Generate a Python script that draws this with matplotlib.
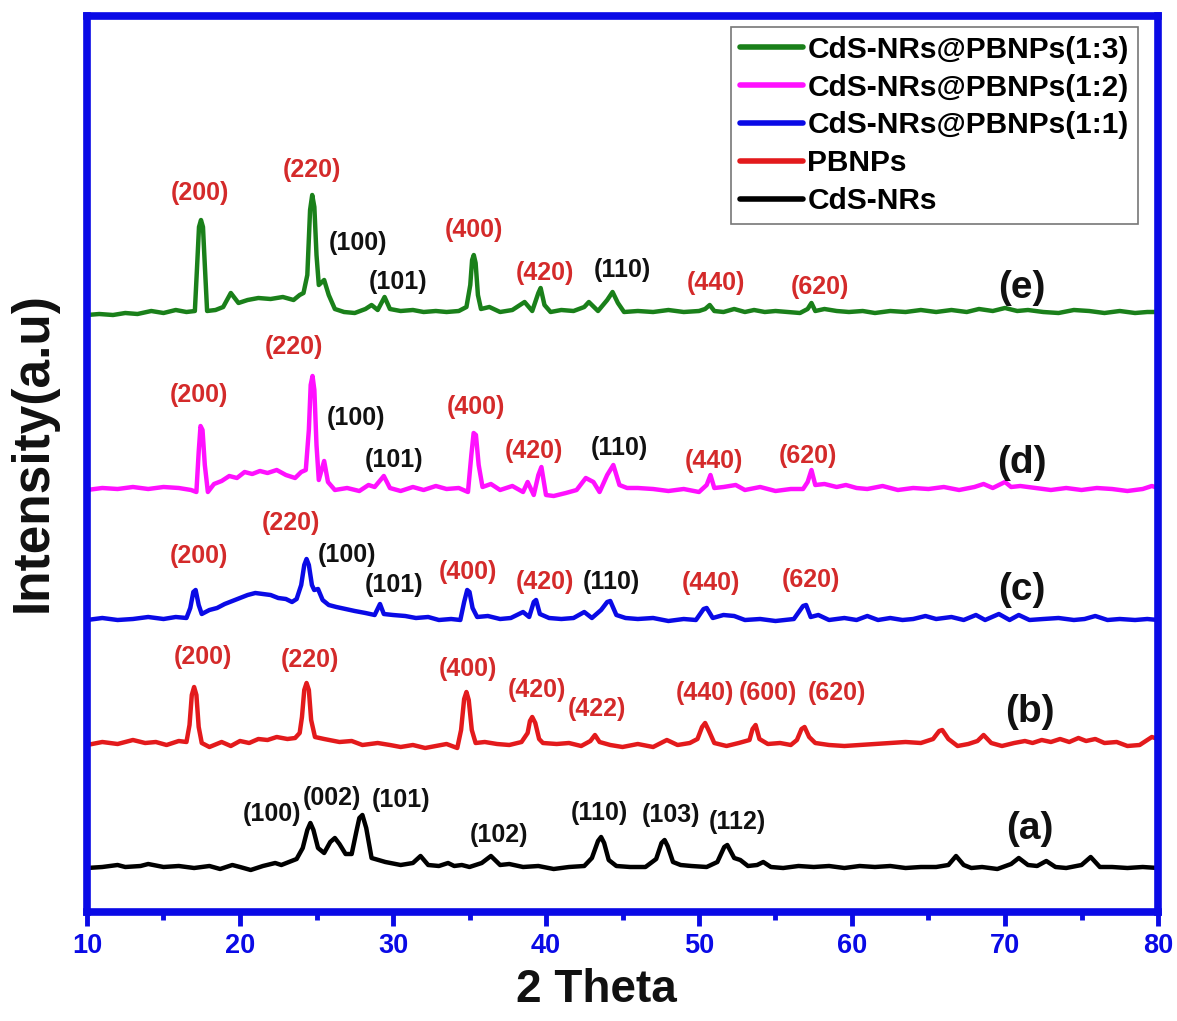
import numpy as np
import matplotlib
matplotlib.use("Agg")
from matplotlib import pyplot as plt

plt.rcParams['font.family'] = ['Liberation Sans', 'DejaVu Sans']
plt.rcParams['font.weight'] = 'bold'

#%% DATA (intensity in arbitrary units above each baseline)

# (a) CdS-NRs
x_a = [10, 11, 12, 12.5, 13.5, 14, 15, 16, 17, 18, 18.7, 19.5, 20, 20.7, 21.5, 22.3, 22.7, 23.2,
       23.7, 24.1, 24.4, 24.6, 24.8, 25.1, 25.5, 25.9, 26.2, 26.5, 26.9, 27.3, 27.6, 27.8, 28.0,
       28.25, 28.6, 29.5, 30.5, 31.3,
       31.8, 32.3, 33, 33.6, 34, 34.5, 35, 35.8, 36.4, 37, 37.6, 38.5, 39.5, 40.5, 41.5, 42.5, 43.0,
       43.4, 43.6, 43.8, 44.1, 44.6, 45.5, 46.5, 47.2, 47.55, 47.75, 47.95, 48.3, 48.8, 49.5, 50.5,
       51.2, 51.65, 51.85, 52.3, 52.7,
       53.2, 53.8, 54.2, 54.7, 55.5, 56.5, 57.5, 58.5, 59.5, 60.5, 61.5, 62.5, 63.5, 64.5, 65.5,
       66.3, 66.8, 67.3, 67.8, 68.5, 69.5, 70.4, 70.9, 71.5, 72.1, 72.7, 73.3, 74.0, 75.0, 75.6,
       76.2, 77, 78, 79, 80]
y_a = [0, 1, 3, 1, 2, 4, 1, 2, 0, 2, -1, 3, 1, -2, 2, 5, 3, 6,
       9, 20, 38, 45, 38, 20, 15, 26, 30, 24, 14, 14, 36, 50, 53,
       40, 10, 6, 3, 5,
       12, 3, 2, 5, 2, 3, 1, 5, 12, 3, 4, 1, 2, -1, 1, 2, 10,
       27, 31, 25, 8, 2, 1, 1, 9, 25, 28, 22, 6, 3, 2, 1,
       6, 21, 23, 10, 8,
       2, 3, 6, 1, 0, 2, 1, 2, 0, 2, 1, 2, 0, 1, 1,
       3, 12, 3, 0, 1, -1, 4, 10, 3, 2, 7, 1, 0, 3, 11,
       1, 1, 0, 1, 0]

# (b) PBNPs
x_b = [10, 11, 12, 13, 13.8, 14.5, 15.2, 16.0, 16.5, 16.7, 16.85, 17.0, 17.15, 17.3, 17.5, 18,
       18.8, 19.4,
       20, 20.6, 21.2, 21.8, 22.4, 23.1, 23.6, 23.9, 24.05, 24.2, 24.35, 24.5, 24.65, 24.9, 25.5,
       26.5, 27.3,
       28, 29, 29.8, 30.5, 31.3, 32.1, 32.8, 33.5, 34.2, 34.45, 34.65, 34.8, 34.95, 35.15, 35.4,
       36, 36.8, 37.6,
       38.4, 38.8, 38.95, 39.1, 39.3, 39.55, 39.8, 40.7, 41.5, 42.3, 42.9, 43.2, 43.5, 44.2, 45,
       46, 47,
       47.9, 48.6, 49.4, 49.9, 50.2, 50.4, 50.65, 51.0, 51.8, 52.6, 53.3, 53.5, 53.7, 53.95, 54.5,
       55.3, 56.0,
       56.4, 56.7, 56.9, 57.2, 57.6, 58.5, 59.5, 60.5, 61.5, 62.5, 63.5, 64.5, 65.3, 65.7, 65.9,
       66.3, 66.9,
       67.6, 68.2, 68.6, 69.1, 69.8, 70.6, 71.3, 71.8, 72.4, 73, 73.6, 74.2, 74.8, 75.3, 75.9,
       76.5, 77.3, 78, 78.8, 79.6, 80]
y_b = [0, 3, 1, 5, 2, 3, 0, 4, 3, 20, 50, 58, 50, 18, 2, -2,
       3, -1,
       4, 2, 6, 5, 8, 6, 7, 12, 28, 55, 62, 55, 25, 8, 6,
       3, 4,
       0, 2, 0, -2, 0, -3, -1, 1, -3, 15, 46, 53, 45, 15, 2,
       3, 1, 0,
       3, 12, 24, 28, 22, 6, 2, 1, 2, -1, 4, 10, 3, 0, -2,
       1, -2,
       5, 0, 2, 6, 18, 22, 14, 2, -1, 2, 5, 16, 20, 6, 1,
       2, 0,
       5, 16, 18, 8, 2, 0, -1, 0, 1, 2, 3, 2, 6, 14, 15,
       6, -1,
       1, 4, 10, 2, -1, 2, 4, 2, 5, 3, 6, 3, 7, 4, 6,
       2, 3, -1, 0, 8, 6]

# (c) CdS-NRs@PBNPs(1:1)
x_c = [10, 11, 12, 13, 14, 15, 15.8, 16.5, 16.75, 16.95, 17.1, 17.3, 17.5, 18, 18.5, 19, 19.5,
       20, 20.5,
       21, 21.5, 22, 22.5, 23, 23.4, 23.7, 24.0, 24.2, 24.35, 24.5, 24.7, 24.85, 25.1, 25.4, 25.8,
       26.3, 26.9,
       27.5, 28.2, 28.8, 29.15, 29.4, 30, 30.8, 31.5, 32.3, 33, 33.8, 34.4, 34.65, 34.85, 35.0,
       35.2, 35.5, 36.2, 37, 37.7, 38.5, 38.9, 39.2, 39.35, 39.6, 40.2, 41, 41.8, 42.5, 43, 43.6,
       44.0, 44.2, 44.6,
       45.2, 46, 47, 48, 49, 49.8, 50.3, 50.5, 50.9, 51.6, 52.3, 53, 54, 55, 56.2, 56.8, 57.0,
       57.3, 57.8,
       58.5, 59.5, 60.3, 61, 61.7, 62.5, 63.3, 64, 64.8, 65.5, 66.5, 67.3, 68.1, 68.7, 69.6,
       70.3, 70.9, 71.6, 72.5, 73.5, 74.5, 75.2, 75.9, 76.7, 77.5, 78.5, 79.3, 80]
y_c = [0, 2, 0, 1, 3, 1, 3, 2, 12, 28, 30, 15, 6, 10, 12, 16, 19,
       22, 25,
       27, 26, 25, 22, 21, 18, 21, 35, 55, 61, 55, 35, 30, 31, 20, 15,
       13, 11,
       9, 7, 5, 16, 6, 5, 4, 2, 3, 0, 1, 0, 18, 30, 28,
       12, 3, 4, 1, 2, 8, 3, 18, 20, 6, 2, 1, 2, 8, 2, 10,
       18, 19, 5,
       2, 1, 2, -1, 1, 0, 11, 12, 2, 5, 4, 0, 1, -1, 1, 14, 15,
       3, 5,
       0, 2, 0, 4, 0, 2, 0, 1, 4, 1, 3, 0, 5, 0, 6,
       0, 5, 0, 1, 2, 0, 1, 4, 0, 1, 0, 1, 0]

# (d) CdS-NRs@PBNPs(1:2)
x_d = [10, 11, 12, 13, 14, 15, 16, 16.8, 17.15, 17.3, 17.42, 17.55, 17.7, 17.9, 18.3, 18.8,
       19.3, 19.8,
       20.3, 20.8, 21.3, 21.8, 22.4, 23, 23.6, 24.0, 24.3, 24.5, 24.62, 24.74, 24.86, 25.0, 25.15,
       25.5, 25.75,
       26.2, 27, 27.8, 28.4, 28.8, 29.4, 29.8, 30.5, 31.3, 32, 32.8, 33.5, 34.3, 34.9, 35.12,
       35.27, 35.42, 35.6, 35.85, 36.4, 37, 37.8, 38.5, 38.8, 39.2, 39.5, 39.7, 40, 40.5, 41.3,
       42,
       42.6, 43.1, 43.5, 44.0, 44.4, 44.8, 45.3, 46, 47, 48, 49, 50, 50.5, 50.75, 51.0, 51.6,
       52.4, 53, 54, 55, 56, 56.8, 57.1, 57.35, 57.6, 58.2, 59, 59.6, 60.3, 61, 62, 63, 64, 65,
       66, 67, 68, 68.6, 69.2, 70, 70.4, 71, 72, 73, 74, 75, 76, 77, 78, 79, 79.6, 80]
y_d = [0, 2, 1, 3, 1, 3, 2, 0, -2, 38, 64, 60, 25, -2, 6, 9,
       14, 12,
       18, 16, 19, 17, 20, 15, 12, 18, 20, 60, 105, 114, 100, 45, 10,
       29, 8,
       0, 2, -1, 5, 3, 14, 2, -1, 3, 0, 4, 1, 2, -2, 35,
       57, 55, 25, 3, 6, 0, 4, -2, 8, -5, 15, 23, -5, -6, -3,
       0,
       12, 8, -2, 15, 25, 5, 2, 2, 1, -1, 1, -2, 5, 15, 2, 3,
       5, 0, 3, -1, 1, 1, 8, 20, 5, 6, 3, 5, 2, 1, 4, 0, 2, 1,
       3, 0, 3, 6, 2, 8, 3, 4, 2, 0, 2, 0, 2, 1, -1, 1, 4, 2]

# (e) CdS-NRs@PBNPs(1:3)
x_e = [10, 10.8, 11.7, 12.5, 13.3, 14.2, 15, 15.8, 16.5, 17.05, 17.2, 17.32, 17.45, 17.58,
       17.7, 17.85, 18.4,
       18.9, 19.4, 19.9, 20.5, 21.2, 22, 22.8, 23.5, 23.9, 24.15, 24.4, 24.58, 24.72, 24.86, 25.0,
       25.15,
       25.5, 25.8, 26.2, 26.8, 27.5, 28.2, 28.6, 29.0, 29.45, 29.8, 30.5, 31.3, 32, 32.8, 33.5,
       34.3, 34.8, 35.05, 35.17, 35.28, 35.4, 35.55, 35.75, 36.3, 37, 37.8, 38.6, 39.1, 39.5,
       39.65, 39.9,
       40.3, 41, 41.8, 42.5, 42.8, 43.4, 44.0, 44.35, 44.7, 45.1, 46, 47, 48, 49, 50, 50.4,
       50.7, 51.0, 51.6, 52.3, 53, 53.6, 54.3, 55, 55.8, 56.6, 57.1, 57.35, 57.6, 58.2, 59,
       59.8, 60.7, 61.5, 62.5, 63.5, 64.5, 65.5, 66.5, 67.5, 68.3, 69.2, 70.0, 70.8, 71.5,
       72.5, 73.5, 74.5, 75.5, 76.5, 77.5, 78.5, 79.3, 80]
y_e = [0, 1, 0, 2, 1, 4, 2, 5, 3, 4, 50, 88, 95, 88, 50, 4, 5,
       8, 22, 12, 15, 17, 16, 18, 15, 20, 22, 40, 105, 120, 108, 60,
       30,
       35, 20, 6, 3, 2, 6, 10, 5, 18, 6, 4, 5, 3, 4, 3,
       4, 8, 30, 55, 60, 52, 20, 6, 8, 3, 5, 13, 4, 22,
       27, 10,
       3, 5, 4, 8, 13, 4, 15, 23, 12, 3, 4, 3, 5, 3, 4, 6,
       10, 4, 3, 6, 3, 5, 3, 4, 3, 2, 6, 12, 4, 6, 4,
       3, 4, 2, 4, 3, 5, 3, 5, 3, 6, 4, 7, 4, 5,
       3, 2, 5, 4, 2, 4, 2, 3, 3]

offsets = [44, 167, 292, 422, 597]
names = ["CdS-NRs", "PBNPs", "CdS-NRs@PBNPs(1:1)", "CdS-NRs@PBNPs(1:2)", "CdS-NRs@PBNPs(1:3)"]
colors = ["black", "#e31a1c", "#0a0ae6", "#ff10ff", "#1a801a"]
series_x = [x_a, x_b, x_c, x_d, x_e]
series_y = [y_a, y_b, y_c, y_d, y_e]

# peak labels: (text, x, y, colour)  red = PB, black = CdS
peak_labels = [
    # (e)
    ("(200)", 17.4, 719, "r"), ("(220)", 24.7, 742, "r"), ("(100)", 27.7, 669, "k"),
    ("(101)", 30.3, 630, "k"), ("(400)", 35.3, 682, "r"), ("(420)", 39.9, 639, "r"),
    ("(110)", 45.0, 642, "k"), ("(440)", 51.1, 629, "r"), ("(620)", 57.9, 625, "r"),
    # (d)
    ("(200)", 17.3, 517, "r"), ("(220)", 23.5, 565, "r"), ("(100)", 27.6, 494, "k"),
    ("(101)", 30.1, 452, "k"), ("(400)", 35.4, 505, "r"), ("(420)", 39.2, 461, "r"),
    ("(110)", 44.8, 464, "k"), ("(440)", 51.0, 451, "r"), ("(620)", 57.1, 456, "r"),
    # (c)
    ("(200)", 17.3, 356, "r"), ("(220)", 23.3, 389, "r"), ("(100)", 27.0, 357, "k"),
    ("(101)", 30.1, 327, "k"), ("(400)", 34.9, 340, "r"), ("(420)", 39.9, 330, "r"),
    ("(110)", 44.3, 330, "k"), ("(440)", 50.8, 329, "r"), ("(620)", 57.3, 332, "r"),
    # (b)
    ("(200)", 17.6, 255, "r"), ("(220)", 24.6, 252, "r"), ("(400)", 34.9, 243, "r"),
    ("(420)", 39.4, 222, "r"), ("(422)", 43.3, 203, "r"), ("(440)", 50.4, 219, "r"),
    ("(600)", 54.5, 219, "r"), ("(620)", 59.0, 219, "r"),
    # (a)
    ("(100)", 22.1, 98, "k"), ("(002)", 26.0, 114, "k"), ("(101)", 30.5, 112, "k"),
    ("(102)", 36.9, 77, "k"), ("(110)", 43.5, 99, "k"), ("(103)", 48.2, 97, "k"),
    ("(112)", 52.5, 90, "k"),
]
curve_tags = [("(a)", 71.6, 83), ("(b)", 71.6, 200), ("(c)", 71.1, 322),
              ("(d)", 71.1, 449), ("(e)", 71.1, 624)]

#%% Figure
fig = plt.figure(figsize=(11.77, 10.21), dpi=100)
ax = fig.add_axes([87/1177, 1 - 912/1021, 1071/1177, 896/1021])

frame_blue = "#0a0ae6"
for i in range(5):
    ax.plot(np.array(series_x[i]), np.array(series_y[i]) + offsets[i],
            color=colors[i], lw=3.2, label=names[i],
            solid_joinstyle='round', solid_capstyle='round')

for txt, xx, yy, c in peak_labels:
    ax.text(xx, yy, txt, color="#d42a2a" if c == "r" else "#111111",
            fontsize=18, fontweight='bold', ha='center', va='center')
for txt, xx, yy in curve_tags:
    ax.text(xx, yy, txt, color="#111111", fontsize=28, fontweight='bold',
            ha='center', va='center')

ax.set_xlim(10, 80)
ax.set_ylim(0, 896)
ax.set_yticks([])
ax.set_xticks(np.arange(10, 81, 10))
ax.set_xticks(np.arange(15, 80, 10), minor=True)
ax.tick_params(axis='x', which='major', direction='out', length=10, width=3.5,
               color=frame_blue, labelcolor=frame_blue, labelsize=19.5, pad=5)
ax.tick_params(axis='x', which='minor', direction='out', length=6, width=3.5,
               color=frame_blue)
for lab in ax.get_xticklabels():
    lab.set_fontweight('bold')
for sp in ax.spines.values():
    sp.set_color(frame_blue)
    sp.set_linewidth(5.5)

ax.set_xlabel('2 Theta', fontsize=33, fontweight='bold', color='#111111')
ax.xaxis.set_label_coords(0.476, -0.087)
ax.xaxis.label.set_va('center')
ax.set_ylabel('Intensity(a.u)', fontsize=37, fontweight='bold', color='#111111')
ax.yaxis.set_label_coords(-0.05, 0.513)
ax.yaxis.label.set_va('center')

h, l = ax.get_legend_handles_labels()
leg = ax.legend(h[::-1], l[::-1], loc='upper right', bbox_to_anchor=(0.981, 0.988),
                borderaxespad=0, handlelength=2.1, handletextpad=0.15,
                labelspacing=0.33, borderpad=0.3, fancybox=False, edgecolor='#555555',
                prop={'weight': 'bold', 'size': 21.5})
leg.get_frame().set_linewidth(1.2)
for ln in leg.get_lines():
    ln.set_linewidth(4)

fig.savefig('out.png', dpi=100)
